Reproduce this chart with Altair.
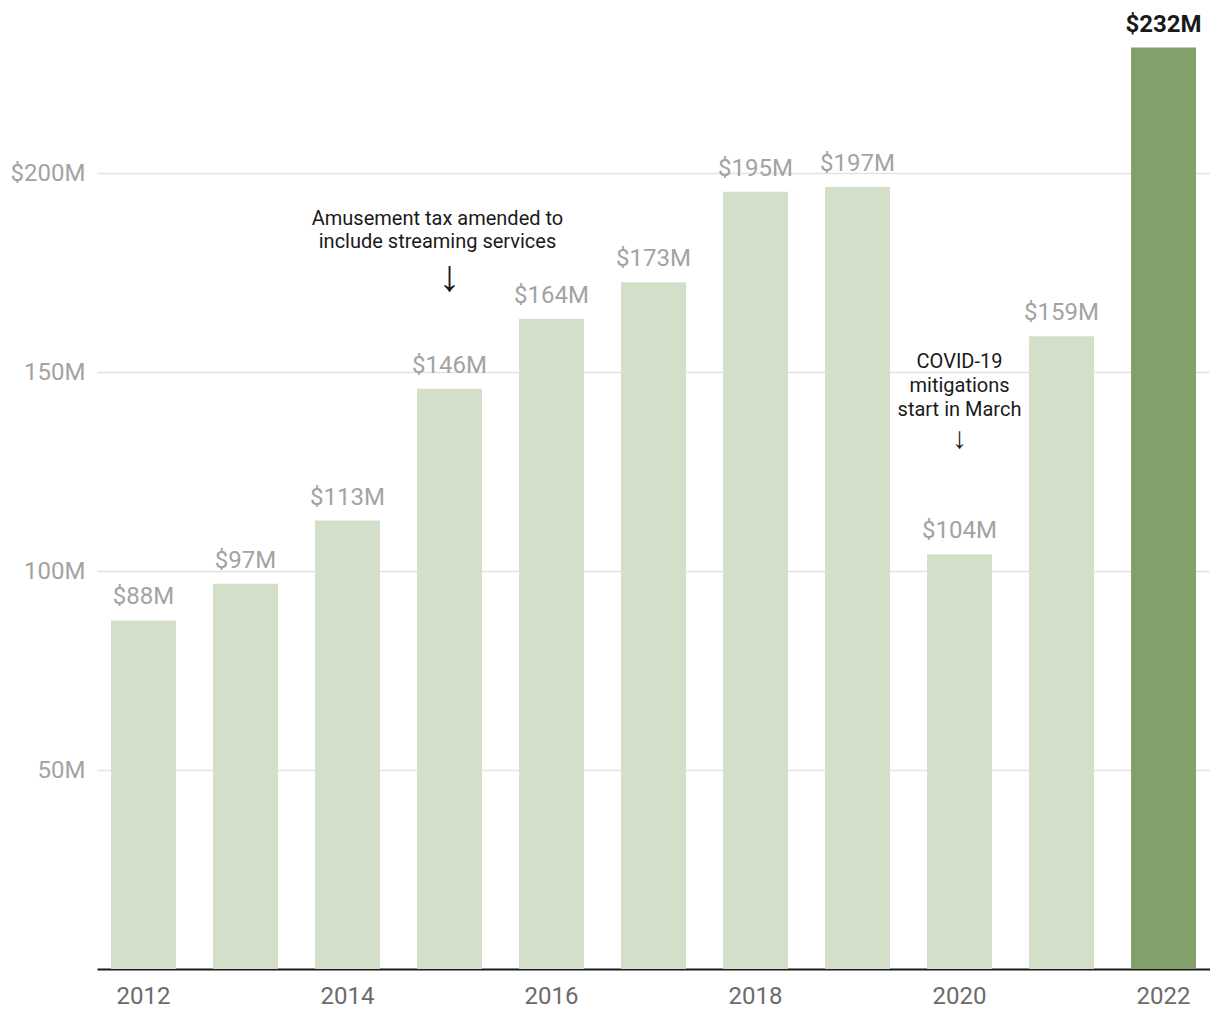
import altair as alt
import pandas as pd

years = ["2012", "2013", "2014", "2015", "2016", "2017", "2018", "2019", "2020", "2021", "2022"]
revenue = [87.6, 96.8, 112.7, 145.8, 163.4, 172.6, 195.3, 196.5, 104.2, 159.0, 231.6]
labels = ["$88M", "$97M", "$113M", "$146M", "$164M", "$173M", "$195M", "$197M", "$104M", "$159M", "$232M"]
highlight = [False] * 10 + [True]

note_years = ["2015", "2015", "2020", "2020", "2020"]
note_values = [188.6, 182.6, 152.6, 146.5, 140.5]
note_texts = ["Amusement tax amended to", "include streaming services",
              "COVID-19", "mitigations", "start in March"]
note_dx = [-12, -12, 0, 0, 0]

arrow_years = ["2015", "2020"]
arrow_values = [173.6, 133.3]
arrow_sizes = [44, 30]

df = pd.DataFrame({"year": years, "revenue": revenue, "label": labels, "hl": highlight})
notes_df = pd.DataFrame({"year": note_years, "value": note_values, "text": note_texts, "dx": note_dx})
arrows_df = pd.DataFrame({"year": arrow_years, "value": arrow_values, "size": arrow_sizes})

FONT = "Roboto"

x_enc = alt.X("year:O", title=None, sort=years,
              scale=alt.Scale(paddingInner=0.363, paddingOuter=0.137),
              axis=alt.Axis(labelAngle=0, ticks=False, domain=True, domainColor="#1a1a1a",
                            domainWidth=2, labelColor="#6b6b6b", labelFontSize=24,
                            labelFont=FONT, labelPadding=15,
                            labelExpr="toNumber(datum.value) % 2 == 0 ? datum.value : ''"))
y_scale = alt.Scale(domain=[0, 240], nice=False)

bars = alt.Chart(df).mark_bar().encode(
    x=x_enc,
    y=alt.Y("revenue:Q", title=None, scale=y_scale,
            axis=alt.Axis(values=[50, 100, 150, 200], domain=False, ticks=False,
                          grid=True, gridColor="#e3e3e3", gridWidth=1.5,
                          labelColor="#a3a3a3", labelFontSize=24, labelFont=FONT,
                          labelPadding=12,
                          labelExpr="datum.value == 200 ? '$200M' : datum.value + 'M'")),
    color=alt.Color("hl:N", scale=alt.Scale(domain=[False, True], range=["#d4dfca", "#84a06a"]), legend=None),
)

vals = alt.Chart(df[~df.hl]).mark_text(baseline="alphabetic", dy=-16, fontSize=24, font=FONT,
                                        color="#a3a3a3").encode(
    x=alt.X("year:O", sort=years), y=alt.Y("revenue:Q", scale=y_scale), text="label:N")

top = alt.Chart(df[df.hl]).mark_text(baseline="alphabetic", dy=-15, fontSize=24, font=FONT,
                                      fontWeight="bold", color="#1a1a1a").encode(
    x=alt.X("year:O", sort=years), y=alt.Y("revenue:Q", scale=y_scale), text="label:N")

notes = []
for dxv in sorted(set(note_dx)):
    sub = notes_df[notes_df.dx == dxv]
    notes.append(alt.Chart(sub).mark_text(baseline="middle", fontSize=20, font=FONT, color="#1a1a1a",
                                          dx=dxv).encode(
        x=alt.X("year:O", sort=years), y=alt.Y("value:Q", scale=y_scale), text="text:N"))

arrows = alt.Chart(arrows_df).mark_text(baseline="middle", font="Liberation Sans", fontWeight="normal",
                                        color="#1a1a1a", text="↓").encode(
    x=alt.X("year:O", sort=years), y=alt.Y("value:Q", scale=y_scale),
    size=alt.Size("size:Q", scale=None, legend=None))

chart = alt.layer(bars, vals, top, *notes, arrows).properties(
    width=1113, height=955,
    autosize=alt.AutoSizeParams(type="none"),
    padding={"left": 89, "top": 6, "right": 0, "bottom": 40},
).configure_view(stroke=None)

chart.save("out.html", embed_options={"renderer": "svg", "actions": False})
